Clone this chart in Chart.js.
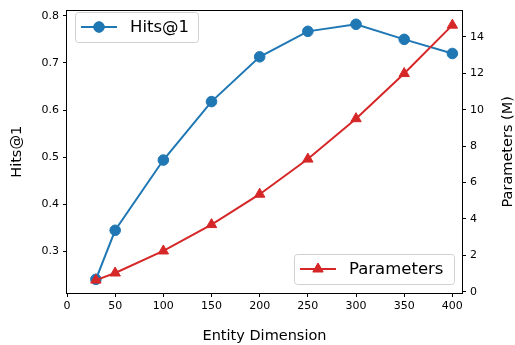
<!DOCTYPE html>
<html>
<head>
<meta charset="utf-8">
<script src="https://cdn.jsdelivr.net/npm/chart.js@4/dist/chart.umd.min.js"></script>
<style>
  html, body { margin: 0; padding: 0; background: #fff; }
  canvas { display: block; }
</style>
</head>
<body>
<canvas id="chart" width="515" height="345"></canvas>
<script>
const dims = [30, 50, 100, 150, 200, 250, 300, 350, 400];
const hits1 = [0.241, 0.345, 0.494, 0.618, 0.713, 0.767, 0.782, 0.750, 0.720];
const params = [0.64, 1.03, 2.24, 3.69, 5.36, 7.29, 9.51, 11.99, 14.65];

const xTicks = [0, 50, 100, 150, 200, 250, 300, 350, 400];
const hitsTicks = [0.3, 0.4, 0.5, 0.6, 0.7, 0.8];
const paramTicks = [0, 2, 4, 6, 8, 10, 12, 14];

const BLUE = '#1f77b4';
const RED = '#d62728';
const FONT = "'DejaVu Sans', sans-serif";

const toPoints = (xs, ys) => xs.map((x, i) => ({ x: x, y: ys[i] }));

// draws the frame, the right axis title and both legend boxes
const extras = {
    id: 'extras',
    afterDraw(chart) {
        const ctx = chart.ctx;
        const a = chart.chartArea;
        ctx.save();
        ctx.strokeStyle = '#000';
        ctx.lineWidth = 1;
        const l = Math.round(a.left), t = Math.round(a.top);
        const r = Math.round(a.right), b = Math.round(a.bottom);
        ctx.strokeRect(l - 0.5, t - 0.5, r - l + 1, b - t + 1);

        ctx.fillStyle = '#000';
        ctx.font = '14.5px ' + FONT;
        ctx.textAlign = 'center';
        ctx.textBaseline = 'middle';
        ctx.translate(508, (a.top + a.bottom) / 2);
        ctx.rotate(-Math.PI / 2);
        ctx.fillText('Parameters (M)', 0, 0);
        ctx.restore();

        drawLegend(ctx, 75, 12, 123, 30, 'Hits@1', BLUE, 'circle', 5.3);
        drawLegend(ctx, 294, 254, 160, 30, 'Parameters', RED, 'triangle', 6);
    }
};

function drawLegend(ctx, x, y, w, h, label, color, style, r) {
    ctx.save();
    ctx.beginPath();
    ctx.roundRect(x + 0.5, y + 0.5, w, h, 3);
    ctx.fillStyle = 'rgba(255,255,255,0.8)';
    ctx.fill();
    ctx.strokeStyle = '#d0d0d0';
    ctx.lineWidth = 1;
    ctx.stroke();

    const cy = y + h / 2;
    ctx.beginPath();
    ctx.moveTo(x + 6, cy);
    ctx.lineTo(x + 42, cy);
    ctx.strokeStyle = color;
    ctx.lineWidth = 2;
    ctx.stroke();
    ctx.fillStyle = color;
    ctx.lineWidth = 1;
    Chart.helpers.drawPoint(ctx, { pointStyle: style, radius: r, borderWidth: 1, rotation: 0 }, x + 24, cy);
    ctx.fill();

    ctx.fillStyle = '#000';
    ctx.font = '16.5px ' + FONT;
    ctx.textAlign = 'left';
    ctx.textBaseline = 'middle';
    ctx.fillText(label, x + 55, cy + 1);
    ctx.restore();
}

const ctx = document.getElementById('chart').getContext('2d');
new Chart(ctx, {
    type: 'line',
    data: {
        datasets: [
            {
                label: 'Parameters',
                data: toPoints(dims, params),
                yAxisID: 'y2',
                borderColor: RED,
                backgroundColor: RED,
                borderWidth: 2,
                pointStyle: 'triangle',
                pointRadius: 6,
                pointBorderWidth: 1,
                clip: false,
                order: 0
            },
            {
                label: 'Hits@1',
                data: toPoints(dims, hits1),
                yAxisID: 'y',
                borderColor: BLUE,
                backgroundColor: BLUE,
                borderWidth: 2,
                pointStyle: 'circle',
                pointRadius: 5.3,
                pointBorderWidth: 1,
                clip: false,
                order: 1
            }
        ]
    },
    options: {
        responsive: false,
        animation: false,
        layout: { padding: { top: 3, left: 0, right: 0, bottom: 0 } },
        plugins: {
            legend: { display: false },
            tooltip: { enabled: false }
        },
        scales: {
            x: {
                type: 'linear',
                min: 0,
                max: 410,
                afterBuildTicks: s => { s.ticks = xTicks.map(v => ({ value: v })); },
                afterFit: s => { s.height = 52; },
                grid: { drawOnChartArea: false, drawTicks: true, tickLength: 4, color: '#000' },
                border: { display: false },
                ticks: { color: '#000', padding: 3, font: { family: FONT, size: 11 }, maxRotation: 0 },
                title: { display: true, text: 'Entity Dimension', color: '#000', font: { family: FONT, size: 14.5 }, padding: { top: 0, bottom: 0 } }
            },
            y: {
                position: 'left',
                min: 0.212,
                max: 0.811,
                afterBuildTicks: s => { s.ticks = hitsTicks.map(v => ({ value: v })); },
                afterFit: s => { s.width = 67; },
                grid: { drawOnChartArea: false, drawTicks: true, tickLength: 4, color: '#000' },
                border: { display: false },
                ticks: { color: '#000', padding: 4, font: { family: FONT, size: 11 }, callback: v => v.toFixed(1) },
                title: { display: true, text: 'Hits@1', color: '#000', font: { family: FONT, size: 14.5 }, padding: { top: 9, bottom: 0 } }
            },
            y2: {
                position: 'right',
                min: -0.07,
                max: 15.45,
                afterBuildTicks: s => { s.ticks = paramTicks.map(v => ({ value: v })); },
                afterFit: s => { s.width = 53; },
                grid: { drawOnChartArea: false, drawTicks: true, tickLength: 4, color: '#000' },
                border: { display: false },
                ticks: { color: '#000', padding: 4, font: { family: FONT, size: 11 }, callback: v => String(v) }
            }
        }
    },
    plugins: [extras]
});
</script>
</body>
</html>
